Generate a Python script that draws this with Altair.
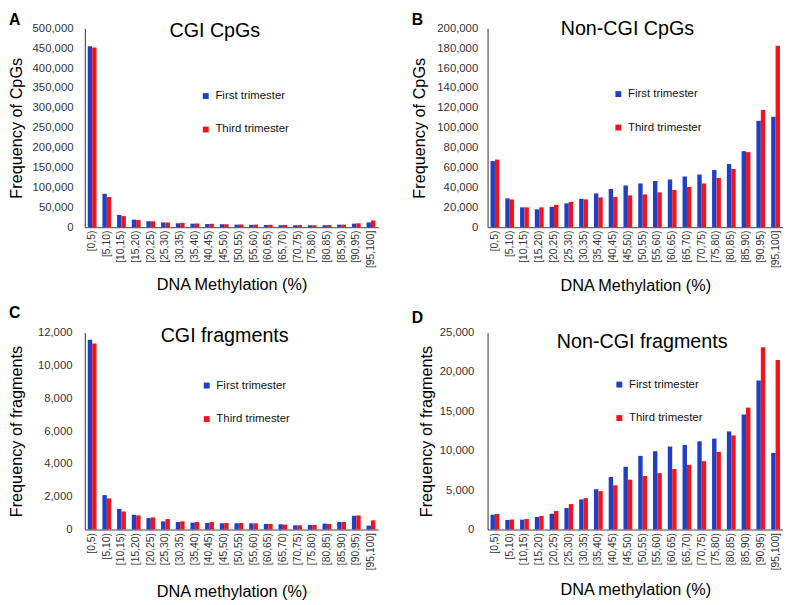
import altair as alt
import pandas as pd

categories = ["[0,5)", "[5,10)", "[10,15)", "[15,20)", "[20,25)", "[25,30)", "[30,35)",
              "[35,40)", "[40,45)", "[45,50)", "[50,55)", "[55,60)", "[60,65)", "[65,70)",
              "[70,75)", "[75,80)", "[80,85)", "[85,90)", "[90,95)", "[95,100]"]
series_names = ["First trimester", "Third trimester"]

cgi_cpg_first = [455000, 84000, 31000, 19000, 15000, 12000, 10000, 9000, 8000, 7500,
                 6500, 6000, 5500, 5000, 5000, 5000, 5000, 6500, 9000, 12000]
cgi_cpg_third = [452000, 76000, 28000, 18000, 15000, 12000, 11000, 9500, 8500, 7500,
                 7000, 6500, 6000, 5500, 5500, 5000, 5500, 6500, 10000, 17000]

noncgi_cpg_first = [66500, 29000, 20000, 18000, 20500, 24000, 28500, 34000, 38500, 42000,
                    44000, 46500, 48000, 51000, 53000, 57500, 63500, 76500, 107000, 111000]
noncgi_cpg_third = [68000, 28000, 20000, 20000, 22500, 25500, 28000, 30000, 30500, 32000,
                    33000, 35000, 37500, 40500, 44000, 49500, 58500, 75500, 118000, 182500]

cgi_frag_first = [11560, 2100, 1260, 900, 700, 500, 460, 420, 400, 380,
                  380, 380, 340, 320, 260, 280, 360, 460, 840, 240]
cgi_frag_third = [11330, 1900, 1100, 860, 740, 640, 500, 460, 460, 400,
                  400, 380, 340, 300, 260, 280, 340, 460, 860, 560]

noncgi_frag_first = [1890, 1220, 1260, 1590, 2010, 2730, 3820, 5120, 6670, 7970,
                     9350, 9940, 10530, 10740, 11200, 11540, 12460, 14600, 18920, 9730]
noncgi_frag_third = [1970, 1260, 1340, 1720, 2350, 3230, 3990, 4870, 5620, 6330,
                     6800, 7170, 7680, 8220, 8680, 9860, 11950, 15480, 23150, 21520]

FONT = "Liberation Sans"
BLUE = "#1f3fc6"
RED = "#f2141b"


def panel(first, third, letter, title, ytitle, xtitle, ymax, ystep, width, height,
          legend_xy, title_xy, letter_xy, y_title_pad, y_label_pad, x_title_pad):
    df = pd.DataFrame({
        "bin": categories * 2,
        "series": [series_names[0]] * len(categories) + [series_names[1]] * len(categories),
        "value": first + third,
    })
    bars = alt.Chart(df).mark_bar().encode(
        x=alt.X("bin:N", sort=categories,
                scale=alt.Scale(paddingInner=0.4, paddingOuter=0.2),
                axis=alt.Axis(title=xtitle, labelAngle=270, labelFontSize=10.5,
                              labelPadding=3, titlePadding=x_title_pad,
                              domainColor="#404040", labelColor="#333333")),
        xOffset=alt.XOffset("series:N", sort=series_names),
        y=alt.Y("value:Q", scale=alt.Scale(domain=[0, ymax], nice=False),
                axis=alt.Axis(title=ytitle, values=list(range(0, ymax + 1, ystep)),
                              format=",d", labelFontSize=11.5, labelPadding=y_label_pad,
                              titlePadding=y_title_pad, domainColor="#303030",
                              labelColor="#333333")),
        color=alt.Color("series:N", sort=series_names,
                        scale=alt.Scale(domain=series_names, range=[BLUE, RED]),
                        legend=alt.Legend(title=None, orient="none",
                                          legendX=legend_xy[0], legendY=legend_xy[1],
                                          symbolType="square", symbolSize=36,
                                          symbolStrokeWidth=0, rowPadding=21,
                                          labelFontSize=11.6, labelFont=FONT,
                                          labelColor="#111111", labelOffset=4)),
    )
    ttl = alt.Chart(pd.DataFrame({"t": [title]})).mark_text(
        font=FONT, fontSize=20, align="center", baseline="alphabetic", color="black"
    ).encode(text="t:N", x=alt.value(title_xy[0]), y=alt.value(title_xy[1]))
    let = alt.Chart(pd.DataFrame({"t": [letter]})).mark_text(
        font=FONT, fontSize=16, fontWeight="bold", align="left", baseline="alphabetic",
        color="black"
    ).encode(text="t:N", x=alt.value(letter_xy[0]), y=alt.value(letter_xy[1]))
    return alt.layer(bars, ttl, let).properties(width=width, height=height)


pA = panel(cgi_cpg_first, cgi_cpg_third, "A", "CGI CpGs", "Frequency of CpGs",
           "DNA Methylation (%)", 500000, 50000, 298, 202,
           (117, 63), (132, 9), (-77, -3), 8, 12, 9)
pB = panel(noncgi_cpg_first, noncgi_cpg_third, "B", "Non-CGI CpGs", "Frequency of CpGs",
           "DNA Methylation (%)", 200000, 20000, 300, 202,
           (127, 61), (142, 7), (-77, -3), 9, 10, 10)
pC = panel(cgi_frag_first, cgi_frag_third, "C", "CGI fragments", "Frequency of fragments",
           "DNA methylation (%)", 12000, 2000, 298, 200,
           (118, 48), (142, 10), (-77, -15), 13.5, 13, 14)
pD = panel(noncgi_frag_first, noncgi_frag_third, "D", "Non-CGI fragments",
           "Frequency of fragments", "DNA methylation (%)", 25000, 5000, 300, 200,
           (128, 47), (157, 16), (-77, -10), 5, 14, 12)

chart = alt.concat(
    pA, pB, pC, pD, columns=2, spacing={"row": 107, "column": 111},
    bounds="flush", align="each", padding=0
).resolve_scale(color="independent").configure_view(stroke=None).configure_axis(
    grid=False, ticks=False, tickSize=0, labelFont=FONT, titleFont=FONT,
    titleFontSize=16.5, titleFontWeight="normal", titleColor="black", domainWidth=1
)

chart.save("out.html", embed_options={"renderer": "svg", "actions": False})
